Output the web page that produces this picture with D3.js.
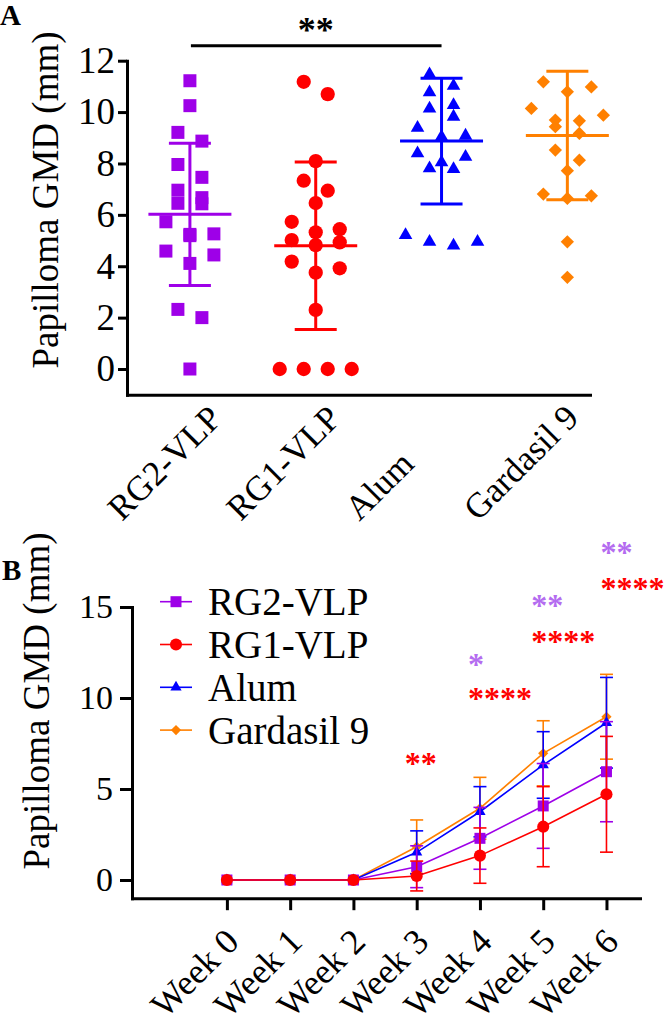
<!DOCTYPE html>
<html>
<head>
<meta charset="utf-8">
<script src="https://cdn.jsdelivr.net/npm/d3@7"></script>
<style>
  body { margin: 0; background: #fff; }
  text { font-family: "Liberation Serif", "Times New Roman", serif; fill: #000; }
</style>
</head>
<body>
<script>
// ---- Panel A data: individual papilloma GMD (mm) per mouse ----
var groups = ["RG2-VLP", "RG1-VLP", "Alum", "Gardasil 9"];
var rg2Points = [11.22, 10.25, 9.21, 8.87, 7.96, 7.46, 6.96, 6.67, 6.45, 6.43, 5.73, 5.26, 5.24, 5.19, 4.59, 4.44, 4.11, 2.32, 2.0, 0];
var rg1Points = [11.18, 10.70, 8.09, 7.33, 6.94, 6.46, 5.73, 5.44, 5.32, 5.02, 4.93, 4.82, 4.18, 3.92, 3.75, 2.30, 0, 0, 0, 0];
var alumPoints = [11.47, 11.02, 10.77, 10.27, 10.14, 9.82, 9.39, 9.08, 9.04, 8.39, 8.26, 8.04, 7.81, 7.78, 5.21, 4.95, 4.95, 4.80];
var gardasilPoints = [11.18, 10.98, 10.79, 10.14, 9.88, 9.69, 9.66, 9.43, 9.17, 8.52, 8.13, 7.72, 6.81, 6.74, 6.64, 4.95, 3.57];
var groupMean = [6.02, 4.80, 8.87, 9.09];
var groupSD = [2.77, 3.26, 2.45, 2.50];
var yTicksA = [0, 2, 4, 6, 8, 10, 12];

// ---- Panel B data: weekly mean and SD ----
var weeks = ["Week 0", "Week 1", "Week 2", "Week 3", "Week 4", "Week 5", "Week 6"];
var rg2Weekly = [0, 0, 0, 0.73, 2.29, 4.07, 5.95];
var rg2WeeklySD = [0, 0, 0, 1.15, 1.70, 2.33, 2.75];
var rg1Weekly = [0, 0, 0, 0.22, 1.34, 2.93, 4.71];
var rg1WeeklySD = [0, 0, 0, 0.82, 1.52, 2.20, 3.18];
var alumWeekly = [0, 0, 0, 1.52, 3.75, 6.32, 8.64];
var alumWeeklySD = [0, 0, 0, 1.18, 1.38, 1.83, 2.49];
var gardasilWeekly = [0, 0, 0, 1.83, 3.94, 6.96, 8.97];
var gardasilWeeklySD = [0, 0, 0, 1.47, 1.70, 1.79, 2.33];
var yTicksB = [0, 5, 10, 15];

// significance marks (week index, stars, which comparison, level in mm)
var sigWeek = [3, 4, 4, 5, 5, 6, 6];
var sigText = ["**", "*", "****", "**", "****", "**", "****"];
var sigGroup = ["RG1", "RG2", "RG1", "RG2", "RG1", "RG2", "RG1"];
var sigLevel = [6.69, 12.13, 10.26, 15.38, 13.42, 18.28, 16.34];

var purple = "#9E00E8", red = "#FF0000", blue = "#0000FF", orange = "#FF8000";
var starPurple = "#B46CF0";

var series = [
  {name: "RG2-VLP", color: purple, shape: d3.symbolSquare, rot: 0, pts: rg2Points, wk: rg2Weekly, sd: rg2WeeklySD, sizeA: 169, sizeB: 121},
  {name: "RG1-VLP", color: red, shape: d3.symbolCircle, rot: 0, pts: rg1Points, wk: rg1Weekly, sd: rg1WeeklySD, sizeA: 160, sizeB: 115},
  {name: "Alum", color: blue, shape: d3.symbolTriangle, rot: 0, pts: alumPoints, wk: alumWeekly, sd: alumWeeklySD, sizeA: 80, sizeB: 55},
  {name: "Gardasil 9", color: orange, shape: d3.symbolSquare, rot: 45, pts: gardasilPoints, wk: gardasilWeekly, sd: gardasilWeeklySD, sizeA: 88, sizeB: 52}
];

var svg = d3.select("body").append("svg")
  .attr("width", 666)
  .attr("height", 1029);

// Prism-like column scatter: points in close rows are spread side by side
function swarm(values, pxPerUnit, rowH, gap) {
  var sorted = values.slice().sort(d3.descending);
  var out = [], row = [];
  function flush() {
    var n = row.length;
    var slots = d3.range(n).map(function(i) { return i - (n - 1) / 2; });
    slots.sort(function(a, b) { return Math.abs(b) - Math.abs(a) || a - b; });
    row.forEach(function(v, i) { out.push({value: v, dx: slots[i] * gap}); });
    row = [];
  }
  sorted.forEach(function(v) {
    if (row.length && (row[0] - v) * pxPerUnit >= rowH) flush();
    row.push(v);
  });
  flush();
  return out;
}

function styleAxis(g, w, fs) {
  g.select(".domain").attr("stroke", "#000").attr("stroke-width", w).attr("stroke-linecap", "square");
  g.selectAll(".tick line").attr("stroke", "#000").attr("stroke-width", w);
  g.selectAll(".tick text").style("font-size", fs + "px").attr("font-family", null);
}

// ================= Panel A =================
var yA = d3.scaleLinear().domain([-1, 12]).range([394.7, 60.7]);
var xA = d3.scaleLinear().domain([-0.5, 3.18]).range([127, 590]);
// rotated category labels start a bit left of each column
var xLabelA = d3.scaleLinear().domain([0, 3]).range([122, 478]);
var pA = svg.append("g");

pA.append("text").attr("x", 0).attr("y", 25)
  .style("font-size", "29px").style("font-weight", "bold").text("A");

var axA = pA.append("g").attr("transform", "translate(127,0)")
  .call(d3.axisLeft(yA).tickValues(yTicksA).tickSize(9).tickPadding(3).tickSizeOuter(0));
styleAxis(axA, 3, 37);
var axAx = pA.append("g").attr("transform", "translate(0," + yA(-1) + ")")
  .call(d3.axisBottom(xA).tickValues([]).tickSizeOuter(0));
styleAxis(axAx, 3, 37);

pA.append("text")
  .attr("transform", "translate(58,200) rotate(-90)")
  .attr("text-anchor", "middle")
  .style("font-size", "37px")
  .text("Papilloma GMD (mm)");

groups.forEach(function(name, i) {
  pA.append("text")
    .attr("transform", "translate(" + xLabelA(i) + ",522) rotate(-45)")
    .attr("text-anchor", "start")
    .style("font-size", "35px")
    .text(name);
});

series.forEach(function(s, i) {
  var sym = d3.symbol().type(s.shape).size(s.sizeA);
  pA.append("g").selectAll("path")
    .data(swarm(s.pts, 25.7, 13, 24))
    .enter().append("path")
    .attr("d", sym)
    .attr("fill", s.color)
    .attr("transform", function(d) {
      return "translate(" + (xA(i) + d.dx) + "," + yA(d.value) + ") rotate(" + s.rot + ")";
    });

  var eb = pA.append("g").attr("stroke", s.color).attr("stroke-width", 3);
  var cx = xA(i), hi = yA(groupMean[i] + groupSD[i]), lo = yA(groupMean[i] - groupSD[i]);
  eb.append("line").attr("x1", cx).attr("x2", cx).attr("y1", hi).attr("y2", lo);
  eb.append("line").attr("x1", cx - 21).attr("x2", cx + 21).attr("y1", hi).attr("y2", hi);
  eb.append("line").attr("x1", cx - 21).attr("x2", cx + 21).attr("y1", lo).attr("y2", lo);
  eb.append("line").attr("x1", cx - 41.5).attr("x2", cx + 41.5)
    .attr("y1", yA(groupMean[i])).attr("y2", yA(groupMean[i]));
});

// significance bar RG2 vs Alum
pA.append("line").attr("x1", xA(0) + 1).attr("x2", xA(2))
  .attr("y1", 45.7).attr("y2", 45.7).attr("stroke", "#000").attr("stroke-width", 3);
pA.append("text").attr("x", xA(1)).attr("y", 42)
  .attr("text-anchor", "middle")
  .style("font-size", "36px").style("font-weight", "bold").text("**");

// ================= Panel B =================
var yB = d3.scaleLinear().domain([-1, 15]).range([898.2, 607]);
var xB = d3.scaleLinear().domain([-1.5, 6.53]).range([132, 640]);
var pB = svg.append("g");

pB.append("text").attr("x", 2).attr("y", 580)
  .style("font-size", "29px").style("font-weight", "bold").text("B");

var axB = pB.append("g").attr("transform", "translate(132,0)")
  .call(d3.axisLeft(yB).tickValues(yTicksB).tickSize(12).tickPadding(7).tickSizeOuter(0));
styleAxis(axB, 3, 34);
var axBx = pB.append("g").attr("transform", "translate(0," + yB(-1) + ")")
  .call(d3.axisBottom(xB).tickValues(d3.range(weeks.length)).tickSize(12).tickSizeOuter(0).tickFormat(""));
styleAxis(axBx, 3, 34);

weeks.forEach(function(w, i) {
  pB.append("text")
    .attr("transform", "translate(" + (xB(i) + 5) + ",935) rotate(-45)")
    .attr("text-anchor", "end")
    .attr("dy", "0.35em")
    .style("font-size", "35.5px")
    .text(w);
});

pB.append("text")
  .attr("transform", "translate(49,701) rotate(-90)")
  .attr("text-anchor", "middle")
  .style("font-size", "37px")
  .text("Papilloma GMD (mm)");

var line = d3.line().x(function(d, i) { return xB(i); }).y(function(d) { return yB(d); });
var drawOrder = [3, 2, 0, 1];
drawOrder.forEach(function(k) {
  var s = series[k];
  var g = pB.append("g");
  g.append("path").datum(s.wk).attr("d", line)
    .attr("fill", "none").attr("stroke", s.color).attr("stroke-width", 1.6);
  s.wk.forEach(function(m, i) {
    if (!s.sd[i]) return;
    var cx = xB(i), hi = yB(m + s.sd[i]), lo = yB(m - s.sd[i]);
    var eb = g.append("g").attr("stroke", s.color).attr("stroke-width", 1.6);
    eb.append("line").attr("x1", cx).attr("x2", cx).attr("y1", hi).attr("y2", lo);
    eb.append("line").attr("x1", cx - 6.5).attr("x2", cx + 6.5).attr("y1", hi).attr("y2", hi);
    eb.append("line").attr("x1", cx - 6.5).attr("x2", cx + 6.5).attr("y1", lo).attr("y2", lo);
  });
  var sym = d3.symbol().type(s.shape).size(s.sizeB);
  g.selectAll(".pt").data(s.wk).enter().append("path")
    .attr("d", sym).attr("fill", s.color)
    .attr("transform", function(d, i) { return "translate(" + xB(i) + "," + yB(d) + ") rotate(" + s.rot + ")"; });
});

// legend
series.forEach(function(s, i) {
  var ly = 601.7 + i * 42.8;
  var lg = pB.append("g");
  lg.append("line").attr("x1", 160).attr("x2", 192).attr("y1", ly).attr("y2", ly)
    .attr("stroke", s.color).attr("stroke-width", 1.6);
  lg.append("path").attr("d", d3.symbol().type(s.shape).size(s.sizeB))
    .attr("fill", s.color)
    .attr("transform", "translate(176," + ly + ") rotate(" + s.rot + ")");
  lg.append("text").attr("x", 208).attr("y", ly).attr("dy", "0.35em")
    .style("font-size", "39px").text(s.name);
});

// significance stars
sigWeek.forEach(function(w, i) {
  pB.append("text")
    .attr("x", xB(w) - (w === 6 ? 6 : 12))
    .attr("y", yB(sigLevel[i]) + 16)
    .style("font-size", "32px").style("font-weight", "bold")
    .style("fill", sigGroup[i] === "RG2" ? starPurple : red)
    .text(sigText[i]);
});
</script>
</body>
</html>
